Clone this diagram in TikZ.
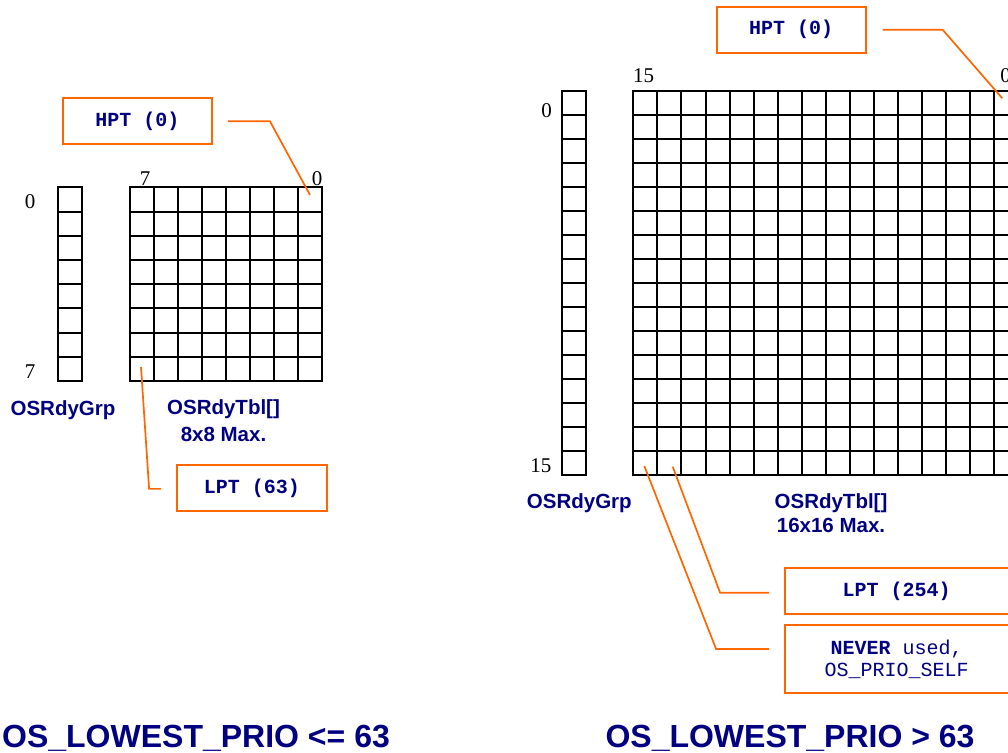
\documentclass[tikz,border=0pt]{standalone}
\usepackage{fontspec}
\setmainfont{Liberation Serif}
\setsansfont{Liberation Sans}
\setmonofont{Liberation Mono}
\definecolor{navy}{RGB}{0,0,128}
\definecolor{orng}{RGB}{255,102,0}
\begin{document}
\begin{tikzpicture}[x=1pt,y=-1pt,
  cellbox/.style={draw=black,line width=2pt},
  callout/.style={draw=orng,line width=1.8pt,inner sep=0pt,font=\ttfamily\fontsize{20}{22.4}\selectfont,text=navy,align=center},
  leader/.style={draw=orng,line width=1.7pt},
  idx/.style={font=\fontsize{21}{21}\selectfont,inner sep=0pt},
  lbl/.style={font=\sffamily\bfseries\fontsize{20.5}{26.7}\selectfont,text=navy,align=center,inner sep=0pt},
  ttl/.style={font=\sffamily\bfseries\fontsize{32}{32}\selectfont,text=navy,inner sep=0pt}]
\useasboundingbox (0,0) rectangle (1008,752);

% ---------------- left diagram ----------------
\foreach \j in {0,...,7}
  \draw[cellbox] (57.5,187.3+\j*24.2) rectangle ++(24.1,24.2);
\foreach \i in {0,...,7}
  \foreach \j in {0,...,7}
    \draw[cellbox] (129.7+\i*24.04,187.3+\j*24.2) rectangle ++(24.04,24.2);

\node[idx] (l0) at (30,202) {0};
\node[idx] (l7) at (30,371.5) {7};
\node[idx] (t7) at (145,179) {7};
\node[idx] (t0) at (317,179) {0};

\node[callout,font=\ttfamily\bfseries\fontsize{20}{22.4}\selectfont,minimum width=149.3pt,minimum height=45.7pt] (hptL) at (137.35,121.2) {HPT (0)};
\node[callout,font=\ttfamily\bfseries\fontsize{20}{22.4}\selectfont,minimum width=149.7pt,minimum height=45.7pt] (lptL) at (251.85,487.85) {LPT (63)};

\coordinate (hptLend) at (310,195);
\coordinate (lptLend) at (141,367);
\draw[leader] ([xshift=15pt]hptL.east) -- ([xshift=57pt]hptL.east) -- (hptLend);
\draw[leader] (lptLend) -- ([xshift=-27pt,yshift=-1pt]lptL.west) -- ([xshift=-15pt,yshift=-1pt]lptL.west);

\node[lbl,anchor=base] (grpL) at (63,415) {OSRdyGrp};
\node[lbl] (tblL) at (223.5,421) {OSRdyTbl[]\\8x8 Max.};
\node[ttl,anchor=base] (ttlL) at (196,747) {OS\_LOWEST\_PRIO <= 63};

% ---------------- right diagram ----------------
\foreach \j in {0,...,15}
  \draw[cellbox] (561.7,90.7+\j*24.02) rectangle ++(24.2,24.02);
\foreach \i in {0,...,15}
  \foreach \j in {0,...,15}
    \draw[cellbox] (633.3+\i*24.07,90.7+\j*24.02) rectangle ++(24.07,24.02);

\node[idx] (r0) at (546.7,110.3) {0};
\node[idx] (r15) at (540.8,465.5) {15};
\node[idx] (u15) at (643.5,75.8) {15};
\node[idx] (u0) at (1005.5,75.8) {0};

\node[callout,font=\ttfamily\bfseries\fontsize{20}{22.4}\selectfont,minimum width=149pt,minimum height=46pt] (hptR) at (791.2,29.7) {HPT (0)};
\node[callout,font=\ttfamily\bfseries\fontsize{20}{22.4}\selectfont,minimum width=223.4pt,minimum height=46pt] (lptR) at (896.7,591.3) {LPT (254)};
\node[callout,minimum width=223.4pt,minimum height=68.3pt] (neverR) at (896.7,659.2) {\textbf{NEVER} used,\\OS\_PRIO\_SELF};

\coordinate (hptRend) at (1002.3,98.3);
\coordinate (lptRend) at (672.7,466.7);
\coordinate (neverRend) at (644.3,466);
\draw[leader] ([xshift=16pt]hptR.east) -- ([xshift=76pt]hptR.east) -- (hptRend);
\draw[leader] (lptRend) -- ([xshift=-64pt,yshift=-1.4pt]lptR.west) -- ([xshift=-15pt,yshift=-1.4pt]lptR.west);
\draw[leader] (neverRend) -- ([xshift=-68pt,yshift=10.2pt]neverR.west) -- ([xshift=-15pt,yshift=10.2pt]neverR.west);

\node[lbl,anchor=base] (grpR) at (579.3,508.3) {OSRdyGrp};
\node[lbl,font=\sffamily\bfseries\fontsize{20.5}{24.4}\selectfont] (tblR) at (831,513) {OSRdyTbl[]\\16x16 Max.};
\node[ttl,anchor=base] (ttlR) at (790,747) {OS\_LOWEST\_PRIO > 63};
\end{tikzpicture}
\end{document}
